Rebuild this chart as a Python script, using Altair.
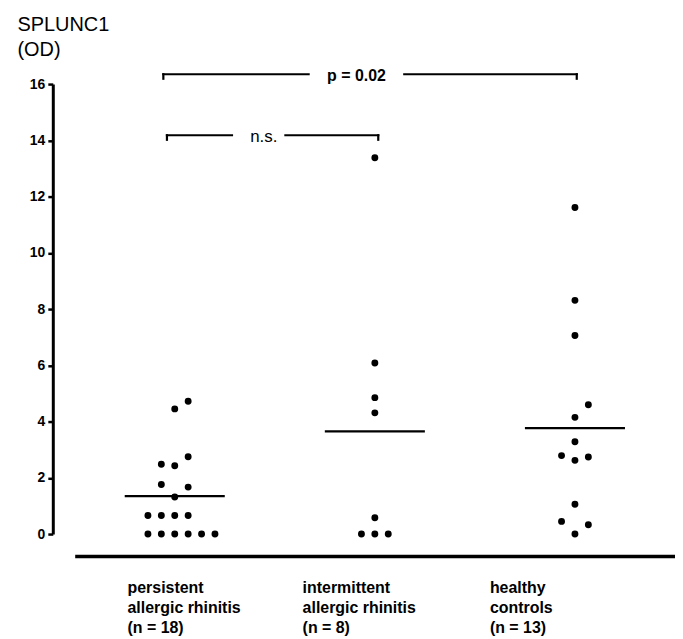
import altair as alt
import pandas as pd

FONT = "Liberation Sans"

# ---- data ----
group_names = ["persistent\nallergic rhinitis", "intermittent\nallergic rhinitis", "healthy\ncontrols"]
group_pos = [1, 2, 3]

persistent_values = [0, 0, 0, 0, 0, 0, 0.66, 0.66, 0.66, 0.66, 1.32, 1.76, 1.67, 2.48, 2.43, 2.75, 4.45, 4.72]
persistent_slots = [-2, -1, 0, 1, 2, 3, -2, -1, 0, 1, 0, -1, 1, -1, 0, 1, 0, 1]
intermittent_values = [13.38, 6.08, 4.85, 4.31, 0.58, 0, 0, 0]
intermittent_slots = [0, 0, 0, 0, 0, -1, 0, 1]
healthy_values = [11.61, 8.31, 7.06, 4.60, 4.15, 3.28, 2.79, 2.62, 2.74, 1.06, 0.45, 0.33, 0]
healthy_slots = [0, 0, 0, 1, 0, 0, -1, 0, 1, 0, -1, 1, 0]

# label anchors (left edge of the multi-line category labels, in x units)
label_left = [0.764, 1.639, 2.575]

# significance brackets
bracket_y = [16.35, 14.18]
bracket_left = [0.943, 0.961]
bracket_right = [3.009, 2.017]
bracket_gap = [(1.669, 2.147), (1.286, 1.553)]
bracket_text = ["p = 0.02", "n.s."]
bracket_text_x = [1.908, 1.445]
bracket_text_bold = ["bold", "normal"]

y_ticks = [0, 2, 4, 6, 8, 10, 12, 14, 16]

# ---- tables ----
rows = []
for g, vals, slots in zip(group_pos, [persistent_values, intermittent_values, healthy_values],
                          [persistent_slots, intermittent_slots, healthy_slots]):
    for v, s in zip(vals, slots):
        rows.append({"group": g, "value": v, "slot": s})
points = pd.DataFrame(rows)

counts = [len(persistent_values), len(intermittent_values), len(healthy_values)]
labels = pd.DataFrame({
    "x": label_left,
    "text": [f"{n}\n(n = {c})" for n, c in zip(group_names, counts)],
})

seg = []
tick_drop = 0.16
for y, l, r, (g1, g2) in zip(bracket_y, bracket_left, bracket_right, bracket_gap):
    seg.append({"x": l, "x2": g1, "y": y, "y2": y})
    seg.append({"x": g2, "x2": r, "y": y, "y2": y})
    seg.append({"x": l, "x2": l, "y": y, "y2": y - tick_drop})
    seg.append({"x": r, "x2": r, "y": y, "y2": y - tick_drop})
segs = pd.DataFrame(seg)

btext = pd.DataFrame({"x": bracket_text_x, "y": [v - 0.08 for v in bracket_y],
                      "text": bracket_text, "weight": bracket_text_bold})

xscale = alt.Scale(domain=[0.5, 3.5], nice=False, zero=False)
yscale = alt.Scale(domain=[0, 16], nice=False, zero=True)

base_x_axis = alt.Axis(title=None, labels=False, ticks=False, grid=False, domain=True,
                       domainColor="black", domainWidth=3.5, offset=22)

dots = alt.Chart(points).transform_calculate(
    xp="datum.group + datum.slot * 0.067"
).mark_point(filled=True, shape="circle", size=48, color="black", opacity=1).encode(
    x=alt.X("xp:Q", scale=xscale, axis=base_x_axis),
    y=alt.Y("value:Q", scale=yscale, axis=alt.Axis(
        values=y_ticks, grid=False, domainColor="black", domainWidth=3, tickColor="black",
        tickWidth=2.5, tickSize=5, labelFont=FONT, labelFontSize=14, labelFontWeight="bold",
        labelColor="black", labelPadding=3, offset=22,
        title=["SPLUNC1", "(OD)"], titleAngle=0, titleFont=FONT, titleFontSize=20,
        titleFontWeight="normal", titleColor="black", titleAlign="left",
        titleBaseline="alphabetic", titleX=-36, titleY=-54, titleLineHeight=25)),
)

means = alt.Chart(points).transform_aggregate(
    mean="mean(value)", groupby=["group"]
).transform_calculate(
    x1="datum.group - 0.25", x2="datum.group + 0.25"
).mark_rule(color="black", strokeWidth=2.2).encode(
    x=alt.X("x1:Q", scale=xscale), x2="x2:Q", y=alt.Y("mean:Q", scale=yscale)
)

brackets = alt.Chart(segs).mark_rule(color="black", strokeWidth=2.2, strokeCap="square").encode(
    x=alt.X("x:Q", scale=xscale), x2="x2:Q", y=alt.Y("y:Q", scale=yscale), y2="y2:Q"
)

ptext = alt.Chart(btext[btext.weight == "bold"]).mark_text(
    font=FONT, fontSize=16, fontWeight="bold", color="black", align="center", baseline="middle"
).encode(x=alt.X("x:Q", scale=xscale), y=alt.Y("y:Q", scale=yscale), text="text:N")

nstext = alt.Chart(btext[btext.weight == "normal"]).mark_text(
    font=FONT, fontSize=17, fontWeight="normal", color="black", align="center", baseline="middle"
).encode(x=alt.X("x:Q", scale=xscale), y=alt.Y("y:Q", scale=yscale), text="text:N")

cat = alt.Chart(labels).mark_text(
    font=FONT, fontSize=16, fontWeight="bold", color="black", align="left",
    baseline="alphabetic", lineBreak="\n", lineHeight=20, dy=59
).encode(x=alt.X("x:Q", scale=xscale), y=alt.datum(0, scale=yscale), text="text:N")

chart = alt.layer(dots, means, brackets, ptext, nstext, cat).properties(
    width=603, height=452,
    background="white",
    padding={"left": 67, "top": 75, "right": 0, "bottom": 104},
    autosize=alt.AutoSizeParams(type="none"),
).configure_view(strokeWidth=0, stroke="transparent")

chart.save("out.html", embed_options={"renderer": "svg", "actions": False})
